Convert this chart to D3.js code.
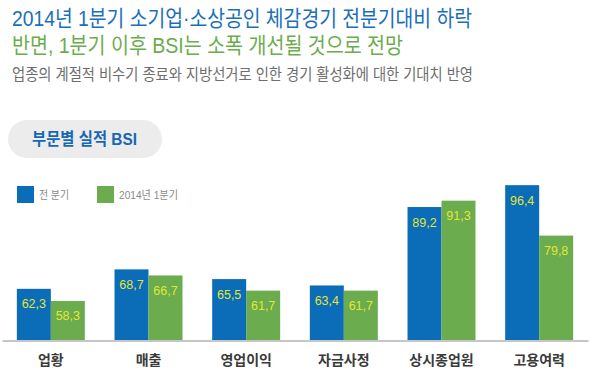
<!DOCTYPE html>
<html>
<head>
<meta charset="utf-8">
<script src="https://cdn.jsdelivr.net/npm/d3@7"></script>
<style>
  body { margin: 0; background: #fff; }
  text { font-family: "Liberation Sans", "Noto Sans CJK KR", sans-serif; }
</style>
</head>
<body>
<div id="chart"></div>
<script>
const categories = ["업황", "매출", "영업이익", "자금사정", "상시종업원", "고용여력"];
const seriesNames = ["전 분기", "2014년 1분기"];
const prevQuarter = [62.3, 68.7, 65.5, 63.4, 89.2, 96.4];
const q1_2014 = [58.3, 66.7, 61.7, 61.7, 91.3, 79.8];

const titleLines = [
  "2014년 1분기 소기업·소상공인 체감경기 전분기대비 하락",
  "반면, 1분기 이후 BSI는 소폭 개선될 것으로 전망",
  "업종의 계절적 비수기 종료와 지방선거로 인한 경기 활성화에 대한 기대치 반영"
];
const pillLabel = "부문별 실적 BSI";

const colors = ["#0b6cb7", "#6aac4e"];
const W = 590, H = 374;

const svg = d3.select("#chart")
  .append("svg")
  .attr("width", W)
  .attr("height", H);

// header text
svg.append("text")
  .attr("x", 12).attr("y", 26)
  .attr("font-size", 22)
  .attr("fill", "#1a6fba")
  .attr("textLength", 460)
  .attr("lengthAdjust", "spacingAndGlyphs")
  .text(titleLines[0]);

svg.append("text")
  .attr("x", 12).attr("y", 53)
  .attr("font-size", 22)
  .attr("fill", "#6aad4c")
  .attr("textLength", 391)
  .attr("lengthAdjust", "spacingAndGlyphs")
  .text(titleLines[1]);

svg.append("text")
  .attr("x", 12).attr("y", 80)
  .attr("font-size", 16)
  .attr("fill", "#6e6e6e")
  .attr("textLength", 461)
  .attr("lengthAdjust", "spacingAndGlyphs")
  .text(titleLines[2]);

// pill label
svg.append("rect")
  .attr("x", 8).attr("y", 120)
  .attr("width", 154).attr("height", 38)
  .attr("rx", 19)
  .attr("fill", "#ececec");

svg.append("text")
  .attr("x", 32).attr("y", 145)
  .attr("font-size", 17)
  .attr("font-weight", "bold")
  .attr("fill", "#1767b4")
  .attr("textLength", 105)
  .attr("lengthAdjust", "spacingAndGlyphs")
  .text(pillLabel);

// legend
const legendX = [17, 97];
const legendTextW = [30, 59];
seriesNames.forEach((name, i) => {
  svg.append("rect")
    .attr("x", legendX[i]).attr("y", 186)
    .attr("width", 17).attr("height", 17)
    .attr("fill", colors[i]);
  svg.append("text")
    .attr("x", legendX[i] + 22).attr("y", 198.5)
    .attr("font-size", 11)
    .attr("fill", "#8a8a8a")
    .attr("textLength", legendTextW[i])
    .attr("lengthAdjust", "spacingAndGlyphs")
    .text(name);
});

// scales
const xScale = d3.scaleBand()
  .domain(categories)
  .range([2, 588])
  .paddingInner(0.304)
  .paddingOuter(0.152);

const xSub = d3.scaleBand()
  .domain([0, 1])
  .range([0, xScale.bandwidth()]);

const baseline = 340.5;
const yScale = d3.scaleLinear()
  .domain([45.3, 100])
  .range([baseline, baseline - 54.7 * 3.04]);

const rows = categories.map((c, i) => ({ cat: c, values: [prevQuarter[i], q1_2014[i]] }));

const groups = svg.selectAll(".group")
  .data(rows)
  .enter()
  .append("g")
  .attr("class", "group")
  .attr("transform", d => `translate(${xScale(d.cat)},0)`);

groups.selectAll("rect")
  .data(d => d.values.map((v, i) => ({ v, i })))
  .enter()
  .append("rect")
  .attr("x", d => xSub(d.i))
  .attr("y", d => yScale(d.v))
  .attr("width", xSub.bandwidth())
  .attr("height", d => baseline - yScale(d.v))
  .attr("fill", d => colors[d.i]);

groups.selectAll(".value")
  .data(d => d.values.map((v, i) => ({ v, i })))
  .enter()
  .append("text")
  .attr("class", "value")
  .attr("x", d => xSub(d.i) + xSub.bandwidth() / 2)
  .attr("y", d => yScale(d.v) + 19.5)
  .attr("text-anchor", "middle")
  .attr("font-size", 12.5)
  .attr("fill", "#e4e634")
  .text(d => d3.format(".1f")(d.v).replace(".", ","));

// axis
const xAxis = svg.append("g")
  .attr("transform", `translate(0,${baseline})`)
  .call(d3.axisBottom(xScale).tickSize(0).tickPadding(15));

xAxis.select(".domain")
  .attr("stroke", "#c6c6c6")
  .attr("stroke-width", 2);

xAxis.selectAll(".tick text")
  .attr("font-family", "'Liberation Sans', 'Noto Sans CJK KR', sans-serif")
  .attr("font-size", 14)
  .attr("font-weight", "bold")
  .attr("fill", "#3a3a3a");
</script>
</body>
</html>
